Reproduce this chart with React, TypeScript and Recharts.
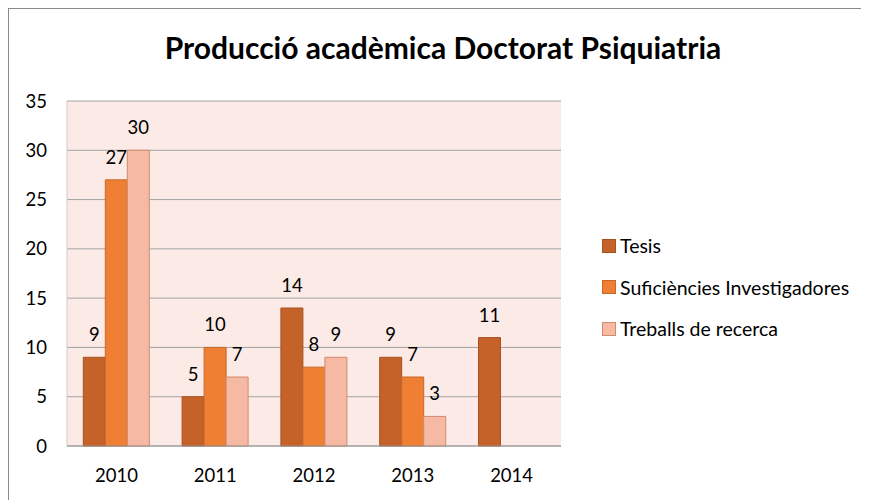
import { BarChart, Bar, XAxis, YAxis, CartesianGrid, LabelList } from "recharts";

const years = ["2010", "2011", "2012", "2013", "2014"];
const tesis = [9, 5, 14, 9, 11];
const suficiencies = [27, 10, 8, 7, null];
const treballs = [30, 7, 9, 3, null];
const yTicks = [0, 5, 10, 15, 20, 25, 30, 35];

const FONT = "Lato, 'Open Sans', sans-serif";

const series = [
  { key: "tesis", name: "Tesis", fill: "#C5622A", stroke: "#A9521F" },
  { key: "suf", name: "Suficiències Investigadores", fill: "#EE7F33", stroke: "#C9672A" },
  { key: "treb", name: "Treballs de recerca", fill: "#F5B9A4", stroke: "#D48A6B" },
];

const data = years.map((y, i) => ({
  year: y,
  tesis: tesis[i],
  suf: suficiencies[i],
  treb: treballs[i],
}));

function LegendBox() {
  return (
    <div
      style={{
        position: "absolute",
        left: 593,
        top: 216,
        fontFamily: FONT,
        fontSize: 19.5,
        color: "#000",
      }}
    >
      {series.map((s) => (
        <div
          key={s.key}
          style={{ display: "flex", alignItems: "center", height: 41.5 }}
        >
          <span
            style={{
              width: 14,
              height: 14,
              background: s.fill,
              border: `1px solid ${s.stroke}`,
              boxSizing: "border-box",
              marginRight: 4,
            }}
          />
          <span>{s.name}</span>
        </div>
      ))}
    </div>
  );
}

export default function App() {
  return (
    <div
      style={{
        width: 861,
        height: 492,
        borderTop: "1px solid #8a8a8a",
        borderLeft: "1px solid #8a8a8a",
        boxSizing: "border-box",
        position: "relative",
        background: "#fff",
      }}
    >
      <div
        style={{
          position: "absolute",
          left: 0,
          width: 868,
          top: 20,
          textAlign: "center",
          fontFamily: FONT,
          fontWeight: 700,
          fontSize: 30,
          color: "#000",
        }}
      >
        Producció acadèmica Doctorat Psiquiatria
      </div>
      <BarChart
        width={860}
        height={491}
        data={data}
        margin={{ top: 92, right: 308, left: 18, bottom: 24 }}
        barCategoryGap="16.5%"
        barGap={0}
      >
        <CartesianGrid
          vertical={false}
          stroke="#A3A3A3"
          fill="#FBEAE6"
          fillOpacity={1}
        />
        <XAxis
          dataKey="year"
          tickLine={false}
          axisLine={{ stroke: "#999" }}
          tickMargin={17}
          height={30}
          tick={{ fill: "#000", fontSize: 18.5, fontFamily: FONT }}
        />
        <YAxis
          domain={[0, 35]}
          ticks={yTicks}
          width={40}
          tickLine={false}
          axisLine={{ stroke: "#D9C9C5" }}
          tickMargin={14}
          tick={{ fill: "#000", fontSize: 18.5, fontFamily: FONT }}
        />
        {series.map((s) => (
          <Bar
            key={s.key}
            dataKey={s.key}
            name={s.name}
            fill={s.fill}
            stroke={s.stroke}
            strokeWidth={1}
            isAnimationActive={false}
          >
            <LabelList
              dataKey={s.key}
              position="top"
              offset={16}
              fill="#000"
              fontSize={18.5}
              fontFamily={FONT}
            />
          </Bar>
        ))}
      </BarChart>
      <LegendBox />
    </div>
  );
}
